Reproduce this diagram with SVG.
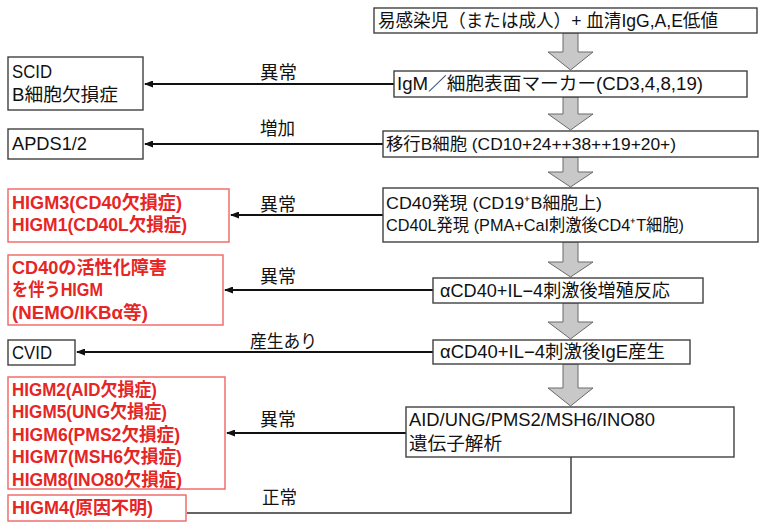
<svg xmlns="http://www.w3.org/2000/svg" width="759" height="523" viewBox="0 0 759 523">
<defs>
<marker id="ah" markerWidth="9" markerHeight="7" refX="8" refY="3.5" orient="auto" markerUnits="userSpaceOnUse">
<path d="M9,3.5 L0,0 L0,7 Z" fill="#111"/>
</marker>
</defs>
<style>
text{font-family:"Liberation Sans","Noto Sans CJK JP",sans-serif;font-size:18px;fill:#111}
.box{fill:#fff;stroke:#404040;stroke-width:1.4}
.rbox{fill:#fff;stroke:#f06464;stroke-width:1.4}
.red{fill:#e62525;font-weight:bold}
.conn{stroke:#111;stroke-width:2;fill:none}
.ga{fill:#c8c8c8;stroke:#6a6a6a;stroke-width:1}
.m{font-size:17px}
</style>
<rect width="759" height="523" fill="#fff"/>

<g id="gray-arrows">
<path class="ga" d="M563,33 H578 V52 H593 L570.5,70 L548,52 H563 Z"/>
<path class="ga" d="M563,97 H578 V114 H593 L570.5,130 L548,114 H563 Z"/>
<path class="ga" d="M563,157 H578 V172 H593 L570.5,187 L548,172 H563 Z"/>
<path class="ga" d="M563,242 H578 V262 H593 L570.5,277 L548,262 H563 Z"/>
<path class="ga" d="M563,303 H578 V322 H593 L570.5,339 L548,322 H563 Z"/>
<path class="ga" d="M563,364 H578 V388 H593 L570.5,406 L548,388 H563 Z"/>
</g>

<g id="connectors">
<line class="conn" x1="394" y1="84" x2="145" y2="84" marker-end="url(#ah)"/>
<line class="conn" x1="383" y1="144" x2="145" y2="144" marker-end="url(#ah)"/>
<line class="conn" x1="383" y1="215" x2="231" y2="215" marker-end="url(#ah)"/>
<line class="conn" x1="433" y1="290" x2="225" y2="290" marker-end="url(#ah)"/>
<line class="conn" x1="433" y1="352" x2="77" y2="352" marker-end="url(#ah)"/>
<line class="conn" x1="406" y1="433" x2="227" y2="433" marker-end="url(#ah)"/>
<polyline points="571,457 571,513 187,513" fill="none" stroke="#333" stroke-width="1.4"/>
<text x="260" y="79" textLength="37" lengthAdjust="spacingAndGlyphs">異常</text>
<text x="260" y="135" textLength="35" lengthAdjust="spacingAndGlyphs">増加</text>
<text x="260" y="211" textLength="36" lengthAdjust="spacingAndGlyphs">異常</text>
<text x="260" y="283" textLength="36" lengthAdjust="spacingAndGlyphs">異常</text>
<text x="250" y="348" textLength="67" lengthAdjust="spacingAndGlyphs">産生あり</text>
<text x="260" y="426" textLength="36" lengthAdjust="spacingAndGlyphs">異常</text>
<text x="262" y="504" textLength="35" lengthAdjust="spacingAndGlyphs">正常</text>
</g>

<g id="n1">
<rect class="box" x="374" y="8" width="383" height="25"/>
<text x="378" y="27" textLength="340" lengthAdjust="spacingAndGlyphs">易感染児（または成人）+ 血清IgG,A,E低値</text>
</g>
<g id="n2">
<rect class="box" x="394" y="71" width="353" height="26"/>
<text x="397" y="90" textLength="306" lengthAdjust="spacingAndGlyphs">IgM／細胞表面マーカー(CD3,4,8,19)</text>
</g>
<g id="n3">
<rect class="box" x="383" y="131" width="375" height="26"/>
<text class="m" x="386" y="150" textLength="290" lengthAdjust="spacingAndGlyphs">移行B細胞 (CD10+24++38++19+20+)</text>
</g>
<g id="n4">
<rect class="box" x="383" y="188" width="375" height="54"/>
<text class="m" x="386" y="209" textLength="216" lengthAdjust="spacingAndGlyphs">CD40発現 (CD19⁺B細胞上)</text>
<text class="m" x="386" y="231" textLength="298" lengthAdjust="spacingAndGlyphs">CD40L発現 (PMA+CaI刺激後CD4⁺T細胞)</text>
</g>
<g id="n5">
<rect class="box" x="433" y="278" width="270" height="25"/>
<text x="440" y="297" textLength="230" lengthAdjust="spacingAndGlyphs">αCD40+IL−4刺激後増殖反応</text>
</g>
<g id="n6">
<rect class="box" x="433" y="340" width="257" height="24"/>
<text x="440" y="358" textLength="225" lengthAdjust="spacingAndGlyphs">αCD40+IL−4刺激後IgE産生</text>
</g>
<g id="n7">
<rect class="box" x="406" y="407" width="328" height="50"/>
<text x="409" y="426" textLength="246" lengthAdjust="spacingAndGlyphs">AID/UNG/PMS2/MSH6/INO80</text>
<text x="409" y="450" textLength="93" lengthAdjust="spacingAndGlyphs">遺伝子解析</text>
</g>

<g id="scid">
<rect class="box" x="8" y="57" width="135" height="53"/>
<text x="12" y="78" textLength="40" lengthAdjust="spacingAndGlyphs">SCID</text>
<text x="12" y="101" textLength="106" lengthAdjust="spacingAndGlyphs">B細胞欠損症</text>
</g>
<g id="apds">
<rect class="box" x="8" y="129" width="135" height="30"/>
<text x="12" y="150" textLength="75" lengthAdjust="spacingAndGlyphs">APDS1/2</text>
</g>
<g id="higm31">
<rect class="rbox" x="8" y="189" width="221" height="53"/>
<text class="red" x="12" y="209" textLength="170" lengthAdjust="spacingAndGlyphs">HIGM3(CD40欠損症)</text>
<text class="red" x="12" y="231" textLength="175" lengthAdjust="spacingAndGlyphs">HIGM1(CD40L欠損症)</text>
</g>
<g id="cd40act">
<rect class="rbox" x="8" y="255" width="215" height="70"/>
<text class="red" x="12" y="274" textLength="155" lengthAdjust="spacingAndGlyphs">CD40の活性化障害</text>
<text class="red" x="12" y="296" textLength="91" lengthAdjust="spacingAndGlyphs">を伴うHIGM</text>
<text class="red" x="12" y="319" textLength="136" lengthAdjust="spacingAndGlyphs">(NEMO/IKBα等)</text>
</g>
<g id="cvid">
<rect class="box" x="8" y="340" width="67" height="25"/>
<text x="12" y="359" textLength="40" lengthAdjust="spacingAndGlyphs">CVID</text>
</g>
<g id="higm2-8">
<rect class="rbox" x="8" y="377" width="217" height="112"/>
<text class="red" x="12" y="396" textLength="145" lengthAdjust="spacingAndGlyphs">HIGM2(AID欠損症)</text>
<text class="red" x="12" y="418" textLength="155" lengthAdjust="spacingAndGlyphs">HIGM5(UNG欠損症)</text>
<text class="red" x="12" y="441" textLength="168" lengthAdjust="spacingAndGlyphs">HIGM6(PMS2欠損症)</text>
<text class="red" x="12" y="463" textLength="170" lengthAdjust="spacingAndGlyphs">HIGM7(MSH6欠損症)</text>
<text class="red" x="12" y="486" textLength="170" lengthAdjust="spacingAndGlyphs">HIGM8(INO80欠損症)</text>
</g>
<g id="higm4">
<rect class="rbox" x="8" y="495" width="178" height="26"/>
<text class="red" x="12" y="514" textLength="141" lengthAdjust="spacingAndGlyphs">HIGM4(原因不明)</text>
</g>
</svg>
